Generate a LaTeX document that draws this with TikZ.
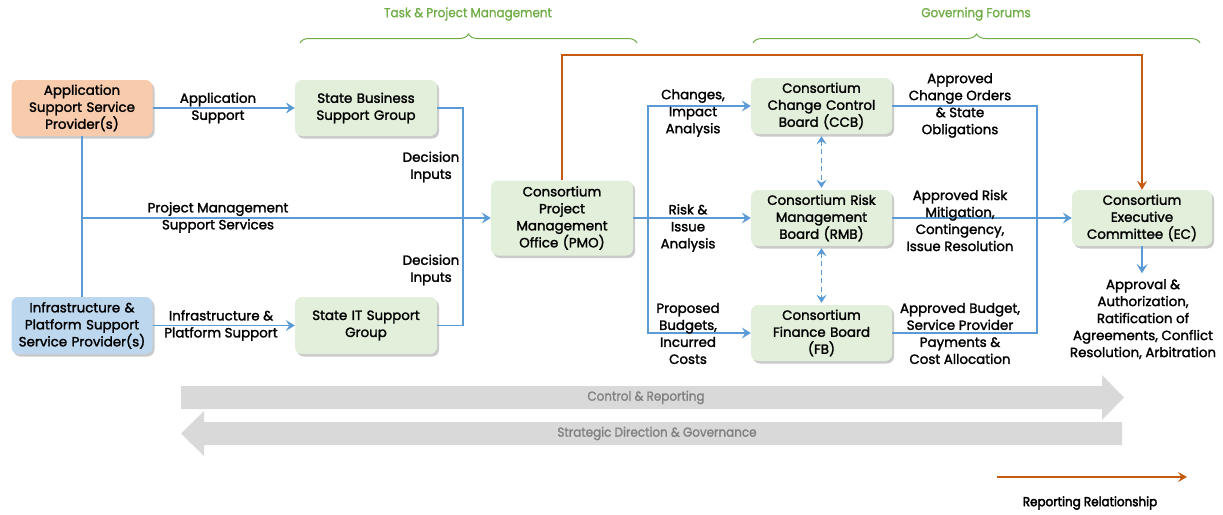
\documentclass[tikz,border=0pt]{standalone}
\usepackage{fontspec}
\setmainfont{Poppins}[FakeBold=1.8]
\newfontfamily\gfont{Poppins}[FakeBold=1.2]
\newfontfamily\lfont{Poppins}[FakeBold=3]
\usetikzlibrary{arrows.meta,shadows,decorations.pathreplacing,calc}
\definecolor{bl}{HTML}{5B9BD5}
\definecolor{org}{HTML}{C55A11}
\definecolor{grn}{HTML}{70AD47}
\definecolor{gfill}{HTML}{E2EFDA}
\definecolor{ofill}{HTML}{F8CBAD}
\definecolor{bfill}{HTML}{BDD7EE}
\definecolor{gry}{HTML}{D9D9D9}
\definecolor{gtxt}{HTML}{7F7F7F}
\begin{document}
\begin{tikzpicture}[x=1pt,y=-1pt,
  box/.style={rounded corners=7pt, minimum width=141pt, minimum height=56pt, align=center,
    font=\fontsize{13.4}{17}\selectfont, text width=140pt, inner sep=0pt,
    drop shadow={shadow xshift=2pt,shadow yshift=-2.5pt,opacity=0.35,fill=black!60}},
  gbox/.style={box, fill=gfill},
  lbl/.style={align=center, font=\fontsize{13.4}{17}\selectfont, inner sep=0pt},
  ln/.style={draw=bl, line width=1.1pt},
  conn/.style={ln, -{Stealth[length=9pt,width=11pt,inset=3.5pt]}},
  dconn/.style={ln, dashed, dash pattern=on 5pt off 3.5pt, {Stealth[length=8pt,width=10pt,inset=3pt]}-{Stealth[length=8pt,width=10pt,inset=3pt]}, shorten <=2pt, shorten >=2pt},
  rep/.style={draw=org, line width=1.1pt, -{Stealth[length=9pt,width=10pt,inset=3.5pt]}},
  brc/.style={draw=grn, line width=1pt, decorate, decoration={brace, amplitude=9pt}},
  gt/.style={font=\fontsize{13}{15}\gfont, xscale=0.92, transform shape},
]
\useasboundingbox (0,0) rectangle (1223,514);

% boxes
\node[box, fill=ofill] (app) at (82,108) {Application\\Support Service\\Provider(s)};
\node[box, fill=bfill, minimum height=57pt] (infra) at (82,325.5) {Infrastructure \&\\Platform Support\\Service Provider(s)};
\node[gbox, minimum width=142pt] (sbsg) at (366,108) {State Business\\Support Group};
\node[gbox, minimum width=142pt, minimum height=57pt] (sit) at (366,325.5) {State IT Support\\Group};
\node[gbox, minimum width=142pt, minimum height=75pt] (pmo) at (562,218) {Consortium\\Project\\Management\\Office (PMO)};
\node[gbox] (ccb) at (821.5,106) {Consortium\\Change Control\\Board (CCB)};
\node[gbox] (rmb) at (821.5,218) {Consortium Risk\\Management\\Board (RMB)};
\node[gbox] (fb) at (821.5,333) {Consortium\\Finance Board\\(FB)};
\node[gbox, minimum width=140pt] (ec) at (1142,218) {Consortium\\Executive\\Committee (EC)};

% left connectors
\draw[conn] (app) -- (sbsg);
\draw[conn] (infra) -- (sit);
\draw[ln] (app.south) -- (infra.north);
\coordinate (lj) at (app.south |- pmo.west);
\draw[conn] (lj) -- (pmo.west);
\coordinate (dj) at (463,218);
\draw[ln] (sbsg.east) -| (dj);
\draw[ln] (sit.east) -| (dj);

\node[lbl] (l1) at (218,108) {Application\\Support};
\node[lbl] (l2) at (221,325.5) {Infrastructure \&\\Platform Support};
\node[lbl] (l3) at (218,217.5) {Project Management\\Support Services};
\node[lbl] (l4) at (431,167) {Decision\\Inputs};
\node[lbl] (l5) at (431,270) {Decision\\Inputs};

% reporting relationship
\coordinate (otop) at (pmo.north |- 0,55);
\draw[rep] (pmo.north) -- (otop) -| (ec.north);

% PMO to boards
\coordinate (pj) at (648,218);
\draw[conn] (pmo.east) -- (rmb.west);
\draw[conn] (pj) |- (ccb.west);
\draw[conn] (pj) |- (fb.west);
\node[lbl] (l6) at (693,113) {Changes,\\Impact\\Analysis};
\node[lbl] (l7) at (688,228) {Risk \&\\Issue\\Analysis};
\node[lbl] (l8) at (688,333.5) {Proposed\\Budgets,\\Incurred\\Costs};

% boards to EC
\coordinate (rj) at (1037,218);
\draw[ln] (ccb.east) -| (rj);
\draw[ln] (fb.east) -| (rj);
\draw[conn] (rmb.east) -- (ec.west);
\node[lbl] (l9) at (960,105.5) {Approved\\Change Orders\\\& State\\Obligations};
\node[lbl] (l10) at (960,220.5) {Approved Risk\\Mitigation,\\Contingency,\\Issue Resolution};
\node[lbl] (l11) at (960,333.5) {Approved Budget,\\Service Provider\\Payments \&\\Cost Allocation};

\draw[dconn] (ccb.south) -- (rmb.north);
\draw[dconn] (rmb.south) -- (fb.north);

\node[lbl, anchor=north] (appr) at (1143,279) {Approval \&\\Authorization,\\Ratification of\\Agreements, Conflict\\Resolution, Arbitration};
\draw[conn] (ec.south) -- ++(0,27);

% braces
\draw[brc] (300,43) -- (637,43);
\draw[brc] (753,43) -- (1200,43);
\node[gt, text=grn] (t1) at (468,14) {Task \& Project Management};
\node[gt, text=grn] (t2) at (976,14) {Governing Forums};

% gray arrows
\fill[gry] (181,386) -- (1102,386) -- (1102,375) -- (1124,397.5) -- (1102,420) -- (1102,409) -- (181,409) -- cycle;
\fill[gry] (1122,422) -- (204,422) -- (204,411) -- (181,433.5) -- (204,456) -- (204,445) -- (1122,445) -- cycle;
\node[gt, text=gtxt] (c1) at (646,397.5) {Control \& Reporting};
\node[gt, text=gtxt] (c2) at (657,433.5) {Strategic Direction \& Governance};

% legend
\coordinate (lg1) at (997,477);
\coordinate (lg2) at (1187,477);
\draw[rep] (lg1) -- (lg2);
\node[gt, font=\fontsize{13}{15}\lfont] (lgt) at (1090,503) {Reporting Relationship};
\end{tikzpicture}
\end{document}
